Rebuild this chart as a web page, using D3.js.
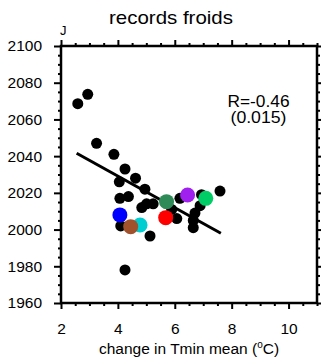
<!DOCTYPE html>
<html>
<head>
<meta charset="utf-8">
<script src="https://cdn.jsdelivr.net/npm/d3@7"></script>
<style>
  body { margin: 0; background: #fff; }
  text { font-family: "Liberation Sans", Arial, Helvetica, sans-serif; fill: #000; }
</style>
</head>
<body>
<svg id="chart" width="321" height="358"></svg>
<script>
// black points: change in Tmin mean (x) vs year of record (y)
const blackX = [2.59, 2.94, 3.25, 3.86, 4.25, 4.05, 4.62, 4.95, 4.07, 4.37, 4.84, 5.01, 5.24,
                4.10, 5.13, 4.25, 6.07, 6.18, 6.94, 7.59, 6.89, 6.71, 6.65, 6.65, 5.89]
const blackY = [2068.6, 2073.7, 2047, 2041, 2033, 2026, 2028, 2022, 2017, 2018, 2012, 2014, 2014,
                2002, 1996.5, 1978, 2006, 2017, 2019, 2021, 2013, 2009, 2005, 2001, 2011]

// coloured models
const colorX = [4.07, 4.78, 4.45, 5.68, 5.71, 6.45, 7.09]
const colorY = [2008, 2002.5, 2001.6, 2006.5, 2015.2, 2018.8, 2017]
const colorFill = ["#0000ff", "#00ced1", "#a0522d", "#ff0000", "#2e8b57", "#a020f0", "#00cd66"]

// regression line end points
const fitX = [2.55, 7.62]
const fitY = [2041.6, 1998]

const xTicks = [2, 4, 6, 8, 10]
const yTicks = [1960, 1980, 2000, 2020, 2040, 2060, 2080, 2100]
const titleText = "records froids"
const rText = ["R=-0.46", "(0.015)"]

const svg = d3.select("#chart")
const [pLeft, pRight, pTop, pBottom] = [61, 317, 46, 303]

const x = d3.scaleLinear().domain([2, 11]).range([pLeft, pRight])
const y = d3.scaleLinear().domain([1960, 2100]).range([pBottom, pTop])

const xMinor = d3.range(2, 11.01, 0.5).filter(v => !xTicks.includes(v))
const yMinor = d3.range(1960, 2100.1, 5).filter(v => !yTicks.includes(v))

// axes, ticks pointing outward on all four sides
const axisStyle = (g) => {
  g.select(".domain").remove()
  g.selectAll(".tick line").attr("stroke", "#000").attr("stroke-width", 2)
  g.selectAll(".tick text").style("font-size", "15.5px")
    .style("font-family", "'Liberation Sans', Arial, sans-serif")
}

svg.append("g").attr("transform", `translate(0,${pBottom})`)
  .call(d3.axisBottom(x).tickValues(xTicks).tickSize(6).tickPadding(14).tickFormat(d3.format("d")))
  .call(axisStyle)
svg.append("g").attr("transform", `translate(0,${pBottom})`)
  .call(d3.axisBottom(x).tickValues(xMinor).tickSize(3).tickFormat(""))
  .call(axisStyle)
svg.append("g").attr("transform", `translate(0,${pTop})`)
  .call(d3.axisTop(x).tickValues(xTicks).tickSize(6).tickFormat(""))
  .call(axisStyle)
svg.append("g").attr("transform", `translate(0,${pTop})`)
  .call(d3.axisTop(x).tickValues(xMinor).tickSize(3).tickFormat(""))
  .call(axisStyle)

svg.append("g").attr("transform", `translate(${pLeft},0)`)
  .call(d3.axisLeft(y).tickValues(yTicks).tickSize(7).tickPadding(12).tickFormat(d3.format("d")))
  .call(axisStyle)
svg.append("g").attr("transform", `translate(${pLeft},0)`)
  .call(d3.axisLeft(y).tickValues(yMinor).tickSize(3).tickFormat(""))
  .call(axisStyle)
svg.append("g").attr("transform", `translate(${pRight},0)`)
  .call(d3.axisRight(y).tickValues(yTicks).tickSize(6).tickFormat(""))
  .call(axisStyle)
svg.append("g").attr("transform", `translate(${pRight},0)`)
  .call(d3.axisRight(y).tickValues(yMinor).tickSize(3).tickFormat(""))
  .call(axisStyle)

// frame
svg.append("rect")
  .attr("x", pLeft).attr("y", pTop)
  .attr("width", pRight - pLeft).attr("height", pBottom - pTop)
  .attr("fill", "none").attr("stroke", "#000").attr("stroke-width", 2.5)

// black points
svg.append("g").selectAll("circle")
  .data(blackX.map((v, i) => [v, blackY[i]]))
  .join("circle")
  .attr("cx", d => x(d[0])).attr("cy", d => y(d[1]))
  .attr("r", 5.5).attr("fill", "#000")

// regression line
svg.append("line")
  .attr("x1", x(fitX[0])).attr("y1", y(fitY[0]))
  .attr("x2", x(fitX[1])).attr("y2", y(fitY[1]))
  .attr("stroke", "#000").attr("stroke-width", 3)

// coloured points
svg.append("g").selectAll("circle")
  .data(colorX.map((v, i) => [v, colorY[i], colorFill[i]]))
  .join("circle")
  .attr("cx", d => x(d[0])).attr("cy", d => y(d[1]))
  .attr("r", 7.5).attr("fill", d => d[2])

// texts
svg.append("text").attr("x", 171).attr("y", 24)
  .attr("text-anchor", "middle").style("font-size", "19px")
  .attr("textLength", 124).attr("lengthAdjust", "spacingAndGlyphs")
  .text(titleText)

svg.append("text").attr("x", 60).attr("y", 35)
  .style("font-size", "13px").text("J")

svg.append("text").attr("x", 258.5).attr("y", 107)
  .attr("text-anchor", "middle").style("font-size", "16px")
  .attr("textLength", 62).attr("lengthAdjust", "spacingAndGlyphs")
  .text(rText[0])
svg.append("text").attr("x", 258.5).attr("y", 123)
  .attr("text-anchor", "middle").style("font-size", "16px")
  .attr("textLength", 56).attr("lengthAdjust", "spacingAndGlyphs")
  .text(rText[1])

const xl = svg.append("text").attr("x", 189).attr("y", 354)
  .attr("text-anchor", "middle").style("font-size", "15.5px")
xl.append("tspan").text("change in Tmin mean (")
xl.append("tspan").attr("dy", -6).style("font-size", "10px").text("o")
xl.append("tspan").attr("dy", 6).text("C)")
</script>
</body>
</html>
